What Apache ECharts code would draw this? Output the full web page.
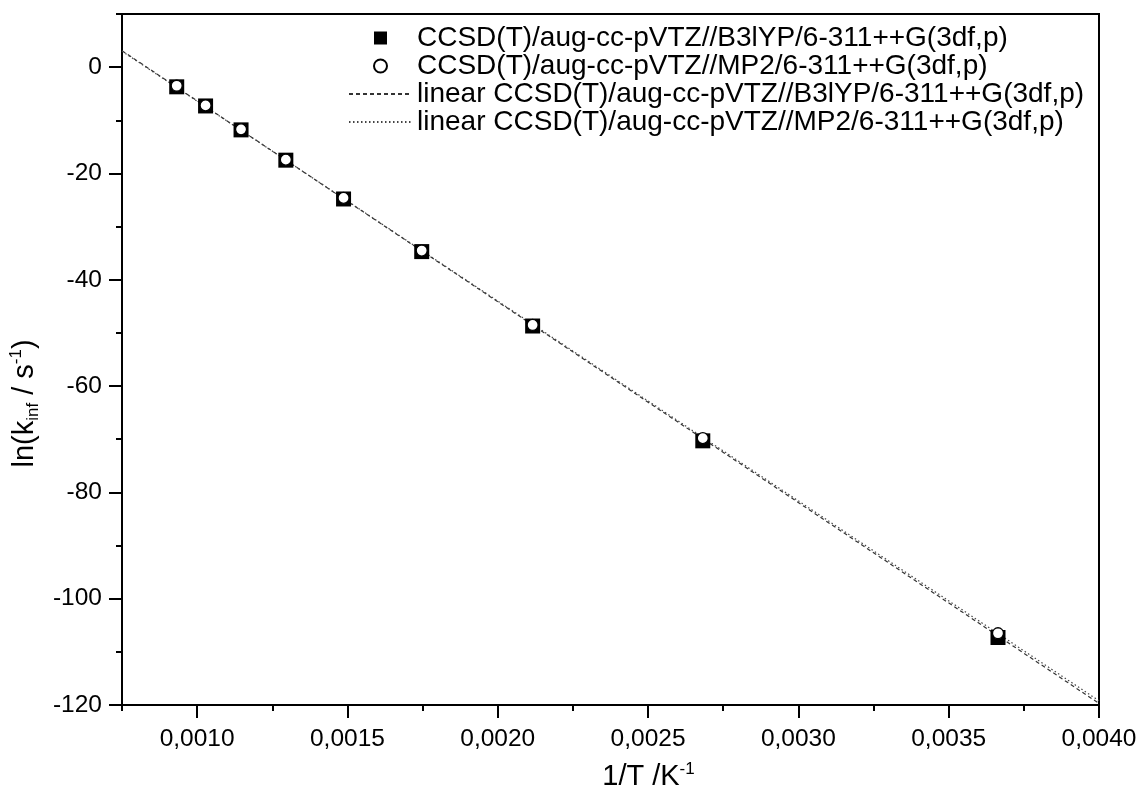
<!DOCTYPE html>
<html>
<head>
<meta charset="utf-8">
<script src="https://cdn.jsdelivr.net/npm/echarts@6/dist/echarts.min.js"></script>
<style>
  html, body { margin: 0; padding: 0; background: #fff; }
  #chart { width: 1142px; height: 787px; }
</style>
</head>
<body>
<div id="chart"></div>
<script>
// Inverse temperature (1/T, K^-1) of the computed points
const invT = [0.000932, 0.001028, 0.001146, 0.001295, 0.001487, 0.001747, 0.002116, 0.002682, 0.003664];
// ln(k_inf / s^-1) at each temperature, two levels of theory
const lnkB3LYP = [-3.7, -7.3, -11.8, -17.5, -24.8, -34.7, -48.7, -70.3, -107.3];
const lnkMP2 = [-3.5, -7.2, -11.7, -17.4, -24.6, -34.5, -48.5, -69.8, -106.5];
// Linear fits, given by their end points across the axis range
const fitX = [0.00075, 0.0040];
const fitB3LYP = [3.1, -119.7];
const fitMP2 = [3.0, -119.2];

// Axis ticks
const xMajorTicks = [0.0010, 0.0015, 0.0020, 0.0025, 0.0030, 0.0035, 0.0040];
const xMinorTicks = [0.00075, 0.00125, 0.00175, 0.00225, 0.00275, 0.00325, 0.00375];
const yMajorTicks = [0, -20, -40, -60, -80, -100, -120];
const yMinorTicks = [10, -10, -30, -50, -70, -90, -110];

const names = [
  'CCSD(T)/aug-cc-pVTZ//B3lYP/6-311++G(3df,p)',
  'CCSD(T)/aug-cc-pVTZ//MP2/6-311++G(3df,p)',
  'linear CCSD(T)/aug-cc-pVTZ//B3lYP/6-311++G(3df,p)',
  'linear CCSD(T)/aug-cc-pVTZ//MP2/6-311++G(3df,p)'
];

const FONT = '"Liberation Sans", Arial, sans-serif';
const pairs = (xs, ys) => xs.map((x, i) => [x, ys[i]]);

const chart = echarts.init(document.getElementById('chart'), null, { renderer: 'canvas' });

const xRange = { min: 0.00075, max: 0.0040 };
const yRange = { min: -120, max: 10 };
const tickStyle = { color: '#000', width: 2 };

chart.setOption({
  animation: false,
  backgroundColor: '#fff',
  grid: {
    left: 122, right: 43, top: 14, bottom: 82,
    containLabel: false,
    outerBoundsMode: 'none',
    show: true, borderColor: '#000', borderWidth: 2, backgroundColor: 'transparent'
  },
  legend: {
    orient: 'vertical',
    left: 343,
    top: 19,
    itemWidth: 63,
    itemHeight: 13,
    itemGap: 0,
    selectedMode: false,
    symbolKeepAspect: true,
    textStyle: { fontFamily: FONT, fontSize: 28, color: '#000', lineHeight: 27.5 },
    data: [
      { name: names[0], icon: 'path://M0,0L10,0L10,10L0,10Z' },
      { name: names[1], icon: 'circle' },
      { name: names[2] },
      { name: names[3] }
    ]
  },
  xAxis: [
    {
      type: 'value', ...xRange,
      splitLine: { show: false },
      axisLine: { show: true, onZero: false, lineStyle: tickStyle },
      axisTick: { show: true, length: 13, lineStyle: tickStyle, customValues: xMajorTicks },
      axisLabel: {
        customValues: xMajorTicks,
        margin: 22,
        fontFamily: FONT, fontSize: 24.5, color: '#000',
        formatter: v => v.toFixed(4).replace('.', ',')
      },
      name: '{n|1/T /K}{sup|-1}',
      nameLocation: 'middle',
      nameGap: 56,
      nameTextStyle: {
        padding: [0, 0, 0, 76],
        rich: {
          n: { fontFamily: FONT, fontSize: 29, color: '#000', lineHeight: 32 },
          sup: { fontFamily: FONT, fontSize: 17, color: '#000', verticalAlign: 'top', lineHeight: 32 }
        }
      }
    },
    {
      type: 'value', ...xRange, gridIndex: 0, position: 'bottom',
      splitLine: { show: false },
      axisLine: { show: false, onZero: false },
      axisTick: { show: true, length: 6, lineStyle: tickStyle, customValues: xMinorTicks },
      axisLabel: { show: false }
    }
  ],
  yAxis: [
    {
      type: 'value', ...yRange,
      splitLine: { show: false },
      axisLine: { show: true, onZero: false, lineStyle: tickStyle },
      axisTick: { show: true, length: 13, lineStyle: tickStyle, customValues: yMajorTicks },
      axisLabel: {
        customValues: yMajorTicks,
        margin: 20,
        fontFamily: FONT, fontSize: 24.5, color: '#000'
      },
      name: '{n|ln(k}{sub|inf}{n| / s}{sup|-1}{n|)}',
      nameLocation: 'middle',
      nameGap: 63,
      nameRotate: 90,
      nameTextStyle: {
        padding: [0, 88, 0, 0],
        rich: {
          n: { fontFamily: FONT, fontSize: 29, color: '#000', lineHeight: 34 },
          sub: { fontFamily: FONT, fontSize: 17, color: '#000', verticalAlign: 'bottom', lineHeight: 34 },
          sup: { fontFamily: FONT, fontSize: 17, color: '#000', verticalAlign: 'top', lineHeight: 34 }
        }
      }
    },
    {
      type: 'value', ...yRange, gridIndex: 0, position: 'left',
      splitLine: { show: false },
      axisLine: { show: false, onZero: false },
      axisTick: { show: true, length: 6, lineStyle: tickStyle, customValues: yMinorTicks },
      axisLabel: { show: false }
    }
  ],
  series: [
    {
      name: names[2],
      type: 'line',
      data: pairs(fitX, fitB3LYP),
      symbol: 'none',
      clip: true,
      lineStyle: { color: '#333', width: 1.2, type: [4, 3] },
      itemStyle: { color: 'rgba(0,0,0,0)', borderWidth: 0, opacity: 0 },
      z: 1
    },
    {
      name: names[3],
      type: 'line',
      data: pairs(fitX, fitMP2),
      symbol: 'none',
      clip: true,
      lineStyle: { color: '#444', width: 1.2, type: [1.5, 2.5] },
      itemStyle: { color: 'rgba(0,0,0,0)', borderWidth: 0, opacity: 0 },
      z: 1
    },
    {
      name: names[0],
      type: 'scatter',
      data: pairs(invT, lnkB3LYP),
      symbol: 'rect',
      symbolSize: 15,
      itemStyle: { color: '#000', opacity: 1 },
      z: 3
    },
    {
      name: names[1],
      type: 'scatter',
      data: pairs(invT, lnkMP2),
      symbol: 'circle',
      symbolSize: 11,
      itemStyle: { color: '#fff', borderColor: '#000', borderWidth: 1.3, opacity: 1 },
      z: 4
    }
  ]
});
</script>
</body>
</html>
